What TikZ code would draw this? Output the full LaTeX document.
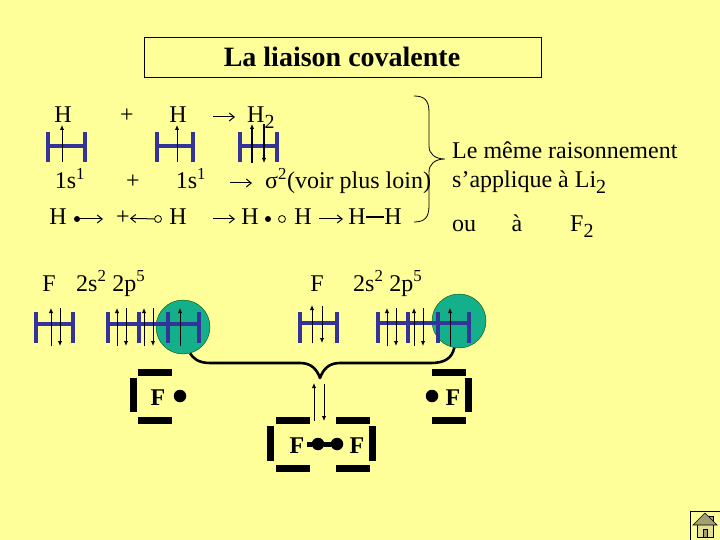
\documentclass[tikz,border=0pt]{standalone}
\usepackage{fontspec}
\usepackage{tikz}
\usetikzlibrary{arrows.meta,positioning}
\setmainfont{Liberation Serif}
\definecolor{slidebg}{HTML}{FFFF99}
\definecolor{orbblue}{HTML}{333399}
\definecolor{lobegreen}{HTML}{14B08C}
\definecolor{roofgrey}{HTML}{A3A070}
\definecolor{wallcream}{HTML}{E4E090}
\newcommand{\subtwo}{\raisebox{-6pt}{\fontsize{20}{20}\selectfont 2}}
\newcommand{\orbital}[5]{%
 \foreach \xb in {#1} {\draw[orb] (\xb,#2) -- (\xb,#3);}
 \draw[orb] (#4,#5) -- (\xbend,#5);}
\begin{document}
\begin{tikzpicture}[
 x=1pt, y=-1pt, >={Straight Barb[length=5pt,width=8pt]},
 every node/.style={inner sep=0pt, font=\fontsize{24}{26}\selectfont},
 txt/.style={anchor=base},
 txtl/.style={anchor=base west},
 react/.style={->, line width=1pt},
 orb/.style={draw=orbblue, line width=3.4pt},
 spinup/.style={-{Latex[length=5pt,width=4.5pt]}, line width=1pt},
 spinupb/.style={spinup, line width=1.6pt},
 lobe/.style={circle, draw=black!70!green, fill=lobegreen, minimum size=54pt},
 dotb/.style={circle, fill=black, minimum size=6pt},
 doto/.style={circle, draw=black, line width=.8pt, minimum size=7pt},
 ldot/.style={circle, fill=black, minimum size=12.5pt},
 wall/.style={line width=7pt},
 lewis/.style={anchor=base, font=\fontsize{24}{26}\selectfont\bfseries},
 thinb/.style={line width=.8pt},
 thickb/.style={line width=2.6pt, line join=round}]
\useasboundingbox (0,0) rectangle (720,540);
\fill[slidebg] (0,0) rectangle (720,540);
\node[draw, line width=.8pt, minimum width=397pt, minimum height=40pt] (frame) at (342.5,57) {};
\node[anchor=base, font=\fontsize{28}{30}\selectfont\bfseries] (title) at (342,67) {La liaison covalente};

\node[txt] (ha) at (63,123) {H};
\node[txt] (pa) at (127,123) {+};
\node[txt] (hb) at (178,123) {H};
\node[txtl] (hh) at (247,123) {H\subtwo};
\coordinate (ra) at (213,117);
\coordinate (rb) at (235,117);
\draw[react] (ra) -- (rb);

\def\xbend{85}\orbital{48,85}{132}{162}{48}{146}
\def\xbend{193}\orbital{157,193}{132}{162}{157}{146}
\def\xbend{277}\orbital{240,277}{132}{162}{240}{146}
\draw[spinup] (62,162) -- (62,125);
\draw[spinup] (177,162) -- (177,125);
\draw[spinupb] (252,163) -- (252,124);
\draw[spinupb] (264,124) -- (264,163);

\node[txt] (sa) at (70,189) {1s\textsuperscript{1}};
\node[txt] (pb) at (133,189) {+};
\node[txt] (sb) at (191,189) {1s\textsuperscript{1}};
\node[txtl] (sig) at (265,189) {σ\textsuperscript{2}(voir plus loin)};
\coordinate (rc) at (230,183);
\coordinate (rd) at (252,183);
\draw[react] (rc) -- (rd);

\node[txt] (hc) at (58,225) {H};
\node[dotb] (da) at (77,219) {};
\node[txt] (pc) at (123,225) {+};
\node[doto] (oa) at (158,219) {};
\node[txt] (hd) at (178,225) {H};
\node[txt] (he) at (250,225) {H};
\node[dotb] (db) at (268,219) {};
\node[doto] (ob) at (282,219) {};
\node[txt] (hf) at (303,225) {H};
\node[txt] (hg) at (357,225) {H};
\node[txt] (hi) at (393,225) {H};
\coordinate (rcc) at (103,219);
\coordinate (re) at (213,219);
\coordinate (rf) at (235,219);
\coordinate (rg) at (319,219);
\coordinate (rh) at (343,219);
\draw[react] (da) -- (rcc);
\draw[react] (oa) -- (pc);
\draw[react] (re) -- (rf);
\draw[react] (rg) -- (rh);
\draw[line width=1.8pt] (hg.east) -- (hi.west);

\coordinate (bta) at (414,96);
\coordinate (btb) at (445,159);
\coordinate (btc) at (414,222);
\draw[thinb] (bta) .. controls (424,96) and (429,100) .. (429,112) -- (429,146)
 .. controls (429,154) and (435,159) .. (btb)
 .. controls (435,159) and (429,164) .. (429,172) -- (429,206)
 .. controls (429,218) and (424,222) .. (btc);

\node[txtl] (lea) at (452,159) {Le même raisonnement};
\node[txtl] (leb) at (452,188) {s’applique à Li\subtwo};
\node[txtl] (ou) at (452,231) {ou};
\node[txt] (aa) at (517,231) {à};
\node[txtl] (ff) at (570,231) {F\subtwo};

\node[txt] (fa) at (49,291) {F};
\node[txtl] (ca) at (76,291) {2s\textsuperscript{2} 2p\textsuperscript{5}};
\node[txt] (fb) at (317,291) {F};
\node[txtl] (cb) at (353,291) {2s\textsuperscript{2} 2p\textsuperscript{5}};

\node[lobe] (loba) at (183,327) {};
\node[lobe] (lobb) at (459,321) {};
\def\xbend{73}\orbital{36,73}{312}{343}{36}{324}
\def\xbend{199}\orbital{108,139,168,199}{312}{343}{108}{324}
\def\xbend{337}\orbital{300,337}{312}{343}{300}{323}
\def\xbend{469}\orbital{378,408,438,469}{312}{343}{378}{323}
\draw[spinup] (51,346) -- (51,308);
\draw[spinup] (60,308) -- (60,346);
\draw[spinup] (117,346) -- (117,308);
\draw[spinup] (126,308) -- (126,346);
\draw[spinup] (144,346) -- (144,308);
\draw[spinup] (153,308) -- (153,346);
\draw[spinup] (180,346) -- (180,308);
\draw[spinup] (312,343) -- (312,305);
\draw[spinup] (322,306) -- (322,343);
\draw[spinup] (387,346) -- (387,308);
\draw[spinup] (396,308) -- (396,346);
\draw[spinup] (414,346) -- (414,308);
\draw[spinup] (423,308) -- (423,346);
\draw[spinup] (450,346) -- (450,308);

\coordinate (tip) at (320,378);
\draw[thickb] (loba.-75) .. controls (193,358) and (198,363) .. (210,363) -- (300,363)
 .. controls (312,363) and (317,370) .. (tip)
 .. controls (323,370) and (328,363) .. (340,363) -- (431,363)
 .. controls (445,363) and (452,358) .. (lobb.-100);

\draw[spinup] (314,421) -- (314,383);
\draw[spinup] (324,384) -- (324,421);

\node[lewis] (fl) at (158,405) {F};
\node[ldot] (dl) at (180,396) {};
\draw[wall] (138,372.5) -- (172,372.5) (133,378) -- (133,412) (138,420.5) -- (172,420.5);

\node[lewis] (fr) at (453,405) {F};
\node[ldot] (dr) at (432,396) {};
\draw[wall] (432,372.5) -- (466,372.5) (468.5,378) -- (468.5,412) (432,420.5) -- (466,420.5);

\node[lewis] (fc) at (297,453) {F};
\node[lewis] (fd) at (357,453) {F};
\node[ldot] (dc) at (318,444) {};
\node[ldot] (dd) at (337,444) {};
\draw[line width=5pt] (307,444) -- (dc) -- (dd);
\draw[wall] (276,420.5) -- (310,420.5) (336,420.5) -- (370,420.5)
 (270.5,426) -- (270.5,461) (372.5,426) -- (372.5,461)
 (276,468.5) -- (310,468.5) (336,468.5) -- (370,468.5);

\draw[line width=.9pt] (690.5,511) -- (720,511) (690.5,511) -- (690.5,540);
\draw[fill=roofgrey, line width=.6pt] (709,516) -- (713,516) -- (713,524) -- (709,524) -- cycle;
\draw[fill=wallcream, line width=.6pt] (697,524) rectangle (713,537);
\draw[fill=roofgrey, line width=.6pt] (705,513) -- (717,525) -- (693,525) -- cycle;
\draw[fill=roofgrey, line width=.5pt] (703,529) rectangle (707,537);
\end{tikzpicture}
\end{document}
